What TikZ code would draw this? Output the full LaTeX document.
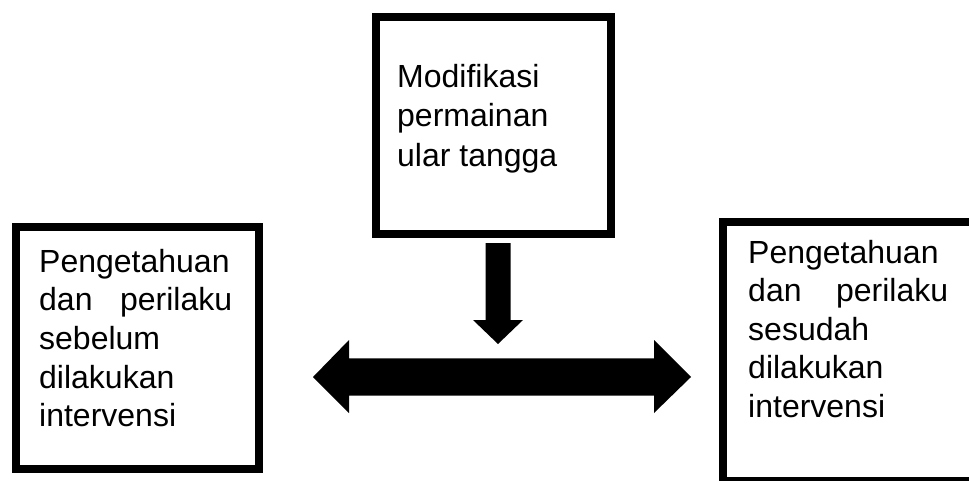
\documentclass[tikz,border=0pt]{standalone}
\usepackage{fontspec}
\setmainfont{Liberation Sans}
\begin{document}
\begin{tikzpicture}[x=1pt,y=-1pt,
  thickbox/.style={draw=black, line width=8pt, fill=white, inner sep=0pt},
  boxtext/.style={anchor=base west, inner sep=0pt, font=\fontsize{32}{39}\selectfont},
  blockarrow/.style={fill=black, draw=none}]
\useasboundingbox (0,0) rectangle (969,480);
\clip (0,0) rectangle (969,480);
% boxes
\node[thickbox, minimum width=235pt, minimum height=217pt] (top) at (493.5,125.5) {};
\node[thickbox, minimum width=243pt, minimum height=242pt] (left) at (137.5,348) {};
\node[thickbox, minimum width=252pt, minimum height=259pt] (right) at (849,351.5) {};
% texts
\node[boxtext] (toptext) at (397,87) {\vtop{\parindent0pt\baselineskip=39.5pt
  \hbox{Modifikasi}
  \hbox{permainan}
  \hbox{ular tangga}}};
\node[boxtext] (lefttext) at (39,272) {\vtop{\hsize=193pt\parindent0pt\baselineskip=38.7pt
  \hbox{Pengetahuan}
  \hbox to\hsize{dan\hfill perilaku}
  \hbox{sebelum}
  \hbox{dilakukan}
  \hbox{intervensi}}};
\node[boxtext] (righttext) at (748,263) {\vtop{\hsize=200pt\parindent0pt\baselineskip=38.6pt
  \hbox{Pengetahuan}
  \hbox to\hsize{dan\hfill perilaku}
  \hbox{sesudah}
  \hbox{dilakukan}
  \hbox{intervensi}}};
% down arrow
\coordinate (dtop) at (498,243);
\coordinate (dtip) at (498,344);
\fill[blockarrow] (dtop) ++(-12.5,0) -- ++(25,0) -- (510.5,320) -- (523,320) -- (dtip) -- (473,320) -- (485.5,320) -- cycle;
% double arrow
\coordinate (ltip) at (313,377);
\coordinate (rtip) at (691,377);
\fill[blockarrow] (ltip) -- (349,340) -- (349,358.3) -- (654,358.3) -- (654,340) -- (rtip)
  -- (654,413) -- (654,395.7) -- (349,395.7) -- (349,413) -- cycle;
\end{tikzpicture}
\end{document}
